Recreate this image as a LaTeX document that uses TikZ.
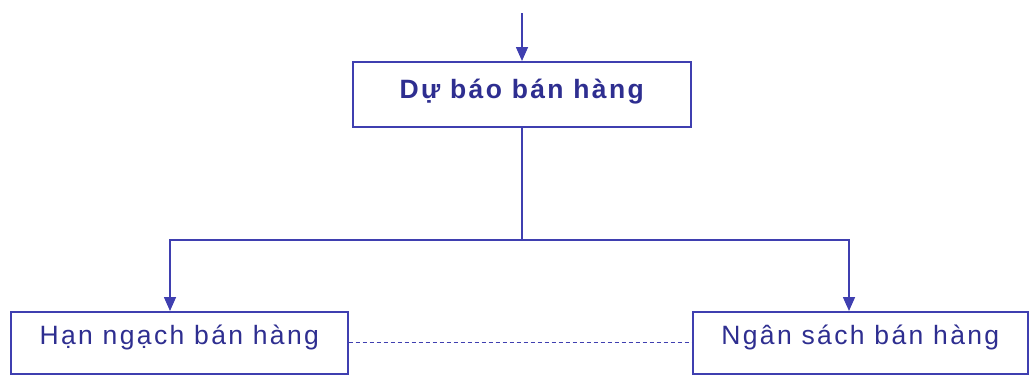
\documentclass[tikz,border=0pt]{standalone}
\usepackage{fontspec}
\setmainfont{Liberation Sans}
\newfontfamily\spacedfont[LetterSpace=9]{Liberation Sans}
\usetikzlibrary{arrows.meta}
\definecolor{linecol}{HTML}{3F3FB0}
\definecolor{textcol}{HTML}{2E2E90}
\tikzset{
  box/.style={draw=linecol, line width=1.6pt, fill=white, inner sep=0pt, anchor=north west},
  label text/.style={text=textcol, font=\spacedfont\fontsize{26.5}{30}\selectfont},
  link/.style={draw=linecol, line width=1.6pt},
  arr/.style={link, -{Triangle[length=14pt,width=12pt]}},
  dash line/.style={draw=linecol, line width=1.1pt, dash pattern=on 4pt off 3pt},
}
\begin{document}
\begin{tikzpicture}[x=1pt,y=-1pt]
  \useasboundingbox (0,0) rectangle (1029,375);
  % boxes
  \node[box, minimum width=338pt, minimum height=65pt] (forecast) at (352,61) {};
  \node[label text, font=\spacedfont\fontsize{26.5}{30}\selectfont\bfseries] at ([yshift=3pt]forecast.center) {Dự báo bán hàng};
  \node[box, minimum width=337pt, minimum height=62pt] (quota) at (10,311) {};
  \node[label text] at ([yshift=5pt]quota.center) {Hạn ngạch bán hàng};
  \node[box, minimum width=335pt, minimum height=62pt] (budget) at (692,311) {};
  \node[label text] at ([yshift=5pt]budget.center) {Ngân sách bán hàng};
  % incoming arrow
  \coordinate (in) at (522,13);
  \draw[arr] (in) -- (forecast.north -| in);
  % branching
  \coordinate (split) at (522,240);
  \draw[link] (forecast.south -| split) -- (split);
  \draw[arr] (split) -| (quota.north -| 170,0);
  \draw[arr] (split) -| (budget.north -| 849,0);
  % dashed link between the lower boxes
  \draw[dash line] (quota.east) -- (budget.west);
\end{tikzpicture}
\end{document}
